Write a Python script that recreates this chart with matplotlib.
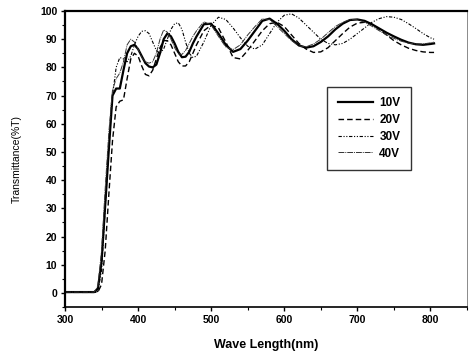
import numpy as np
import matplotlib.pyplot as plt

plt.rcParams['font.family'] = ['Liberation Sans', 'DejaVu Sans']

# wavelength grid (nm)
wl = [300, 340, 345, 350, 355, 360, 365, 370, 375, 380, 385, 390, 395, 400,
      405, 410, 415, 420, 425, 430, 435, 440, 445, 450, 455, 460, 465, 470,
      475, 480, 490, 500, 510, 520, 530, 540, 550, 560, 570, 580, 590, 600,
      610, 620, 630, 640, 650, 660, 670, 680, 690, 700, 710, 720, 730, 740,
      750, 760, 770, 780, 790, 800, 805]

t10 = [0.3, 0.3, 1.5, 11, 31, 51, 70, 72.5, 72.5, 79, 85, 87.5, 88, 86.5,
       84, 81.5, 80.3, 80, 81, 85, 90, 92, 91, 88.5, 85.5, 83.6, 83.8, 85.5,
       88.5, 91, 95.3, 95.5, 92, 88, 85.5, 86.5, 89.5, 93, 96.5, 97.3, 95.5, 93,
       90, 87.8, 87, 87.5, 89, 91, 93.5, 95.5, 96.8, 97, 96.5, 95.3, 93.8, 92.3,
       91, 89.8, 88.8, 88.2, 88, 88.3, 88.5]

t20 = [0.2, 0.2, 0.3, 3, 15, 35, 54, 66, 68, 68.5, 76, 83, 85, 84,
       80.5, 77.5, 77, 79, 83, 87, 89.5, 89.5, 88, 85, 82, 80.5, 80.5, 82,
       85, 88, 93, 95, 94, 89, 83.5, 83, 86, 89.5, 93, 95.5, 96, 94.5,
       91.5, 88.5, 86.5, 85.3, 85.5, 87, 89.5, 92, 94.3, 95.7, 96, 95.3, 93.5, 91.5,
       89.5, 88, 86.8, 86, 85.5, 85.3, 85.3]

t30 = [0.3, 0.3, 0.5, 8, 30, 52, 70, 80, 83.5, 83, 82, 84, 88, 91,
       92.8, 93, 92, 89, 86, 85, 86.5, 90, 93.5, 95.5, 95.8, 93.5, 89, 85,
       83.5, 84, 89, 95, 97.8, 97, 94, 90.5, 87.5, 86.5, 88, 92, 96, 98.5,
       99, 97.5, 95, 92.5, 90, 88.5, 88, 88.5, 90, 92, 94, 96, 97.3, 98,
       97.8, 97, 95.5, 93.8, 92, 90.5, 90]

t40 = [0.3, 0.3, 2.5, 15, 37, 57, 72, 76, 78, 82, 88, 90, 89, 86.5,
       83.5, 82, 81.5, 82, 85, 90, 93.3, 92.5, 90, 87, 84.8, 84.6, 86, 88.5,
       91, 93, 96.2, 95, 91, 87.2, 86.3, 88, 91.5, 94.5, 97.2, 97, 94.5, 92,
       89.5, 87.6, 87.3, 88.3, 90, 92.3, 94.5, 96, 97, 97, 96, 94.6, 93, 91.5,
       90.3, 89.3, 88.6, 88.3, 88.3, 88.7, 89]

labels = ['10V', '20V', '30V', '40V']

fig = plt.figure(figsize=(4.69, 3.56), dpi=100)
ax = fig.add_axes([0.1386, 0.1376, 0.857, 0.8315])

ax.plot(wl, t10, color='black', lw=1.6, ls='-', label=labels[0])
ax.plot(wl, t20, color='black', lw=1.0, ls=(0, (4, 2.2)), label=labels[1])
ax.plot(wl, t30, color='black', lw=0.8, ls=(0, (3, 1.5, 1, 1.5, 1, 1.5)), label=labels[2])
ax.plot(wl, t40, color='#333333', lw=0.7, ls=(0, (6, 1, 1, 1)), label=labels[3])

ax.set_xlim(300, 850)
ax.set_ylim(-5, 100)
ax.set_xticks(np.arange(300, 801, 100))
ax.set_xticks(np.arange(350, 851, 100), minor=True)
ax.set_yticks(np.arange(0, 101, 10))
ax.set_yticks(np.arange(-5, 100, 10), minor=True)
ax.tick_params(which='major', direction='out', length=3, width=1, labelsize=7.5, pad=2.5)
ax.tick_params(which='minor', direction='out', length=2, width=0.8)
for lab in ax.get_xticklabels() + ax.get_yticklabels():
    lab.set_fontweight('bold')

ax.spines['left'].set_linewidth(1.6)
ax.spines['top'].set_linewidth(1.6)
ax.spines['bottom'].set_linewidth(1.2)
ax.spines['right'].set_linewidth(0.6)
ax.spines['right'].set_color('#777777')

ax.set_xlabel('Wave Length(nm)', fontsize=9, fontweight='bold', labelpad=10)
ax.set_ylabel('Transmittance(%T)', fontsize=7.5, labelpad=13)

leg = ax.legend(loc='upper left', bbox_to_anchor=(0.638, 0.764), frameon=True,
                fancybox=False, handlelength=3.0, handletextpad=0.5,
                borderpad=0.9, labelspacing=0.4,
                prop={'weight': 'bold', 'size': 8.5})
leg.get_frame().set_edgecolor('black')
leg.get_frame().set_linewidth(1.0)

fig.savefig('out.png', dpi=100)
